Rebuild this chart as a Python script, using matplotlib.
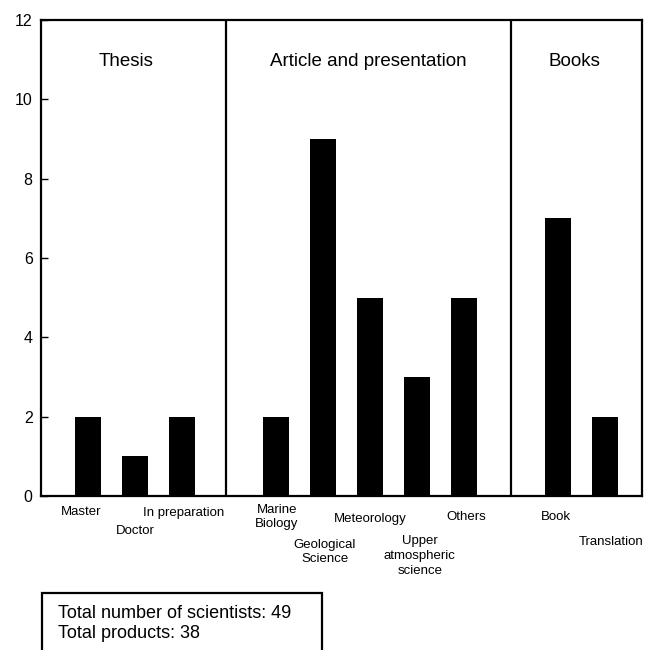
import numpy as np
import matplotlib
matplotlib.use("Agg")
import matplotlib.pyplot as plt
from matplotlib.patches import Rectangle

plt.rcParams['font.family'] = ['Liberation Sans', 'DejaVu Sans']

# data
categories = ["Master", "Doctor", "In preparation",
              "Marine\nBiology", "Geological\nScience", "Meteorology",
              "Upper\natmospheric\nscience", "Others",
              "Book", "Translation"]
values = [2, 1, 2, 2, 9, 5, 3, 5, 7, 2]
groups = ["Thesis", "Article and presentation", "Books"]
group_sizes = [3, 5, 2]
y_ticks = [0, 2, 4, 6, 8, 10, 12]
summary = ["Total number of scientists: 49", "Total products: 38"]

# bar positions: one empty slot between groups
xpos = []
start = 1
for n in group_sizes:
    xpos += list(range(start, start + n))
    start += n + 1
xpos = np.array(xpos)
seps = [3.94, 10]

# label placement (x shift in data units, y in pixels below top of fig)
lab_dx = [-0.15, 0, 0.04, 0.02, 0.04, 0, 0.06, 0.04, -0.04, 0.13]
lab_y = [512, 531, 513, 517, 552, 519, 556, 517, 517, 542]
title_x = [1.81, 6.96, 11.36]

W, H = 647, 650
fig = plt.figure(figsize=(W / 100, H / 100), dpi=100)
ax = fig.add_axes([41 / W, 1 - 496 / H, 601 / W, 476 / H])

ax.bar(xpos, values, width=0.54, color="black")
for s in seps:
    ax.axvline(s, color="black", lw=1.6)

ax.set_xlim(0, 12.79)
ax.set_ylim(0, 12)
ax.set_yticks(y_ticks)
ax.set_yticklabels([str(t) for t in y_ticks], fontsize=11.5)
ax.tick_params(axis="y", direction="in", length=5, width=1, pad=6)
ax.set_xticks([])
for sp in ax.spines.values():
    sp.set_linewidth(1.6)

for x, lab, dx, yp in zip(xpos, categories, lab_dx, lab_y):
    ax.text(x + dx, (496 - yp) / 476, lab, transform=ax.get_xaxis_transform(),
            ha="center", va="center", fontsize=9.5, linespacing=1.3)

for gx, g in zip(title_x, groups):
    ax.text(gx, 10.95, g, ha="center", va="center", fontsize=13.5)

# summary box at the bottom (cut by the figure edge)
fig.patches.append(Rectangle((42 / W, -0.05), 280 / W, 0.05 + 1 - 593 / H,
                             transform=fig.transFigure, fill=False,
                             edgecolor="black", lw=1.6))
fig.text(58 / W, 1 - 613 / H, summary[0], va="center", fontsize=13)
fig.text(58 / W, 1 - 633 / H, summary[1], va="center", fontsize=13)

fig.savefig("out.png", dpi=100)
